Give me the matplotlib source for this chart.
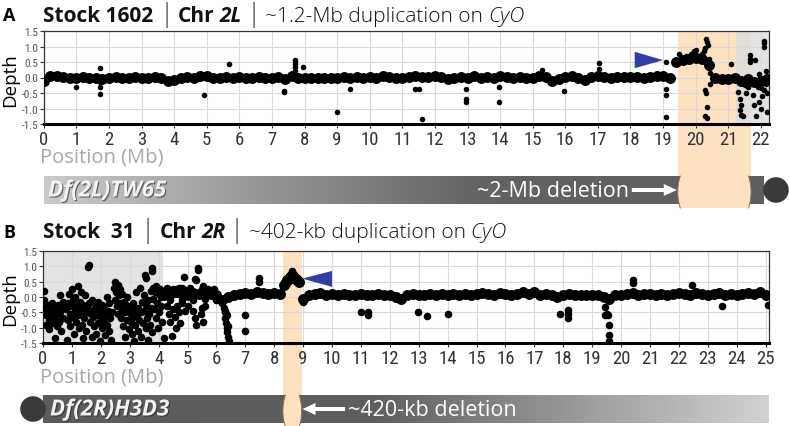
import numpy as np
import matplotlib
matplotlib.use("Agg")
import matplotlib.pyplot as plt
from matplotlib import font_manager
from matplotlib.patches import Rectangle, Circle, Polygon, FancyArrow
import matplotlib.patheffects as pe

# ---------------- data ----------------
# Panel A (Stock 1602, chr 2L): dense band sampled every 0.2 Mb from 0 Mb
a_band = [-0.1, 0.05, 0.05, 0.02, 0.0, 0.0, 0.02, 0.0, 0.0, -0.05,
          0.0, 0.02, 0.0, 0.0, 0.02, 0.0, 0.0, 0.02, 0.0, -0.1,
          -0.08, 0.0, 0.02, 0.0, 0.05, 0.05, 0.0, 0.0, 0.03, 0.0,
          0.02, 0.0, 0.0, 0.02, 0.0, 0.0, 0.03, -0.05, 0.05, 0.0,
          -0.03, 0.0, 0.0, -0.03, 0.0, 0.0, 0.02, 0.0, 0.03, 0.0,
          0.02, 0.0, 0.05, 0.03, 0.0, -0.02, 0.02, 0.05, 0.03, 0.02,
          0.05, 0.03, -0.05, 0.0, 0.02, 0.0, 0.05, 0.0, 0.02, 0.0,
          0.05, 0.03, 0.0, 0.02, -0.02, 0.0, 0.05, 0.03, -0.12, -0.05,
          0.02, 0.05, 0.0, -0.08, 0.02, 0.05, 0.03, 0.0, 0.02, 0.02,
          0.02, 0.03, 0.0, 0.02, 0.05, 0.05, 0.0, 0.5, 0.58, 0.6,
          0.62, 0.6, 0.4, 0.0, -0.05, -0.05, -0.02, -0.1, -0.05, -0.15,
          -0.1, -0.05]
a_band_pos = np.round(np.arange(len(a_band)) * 0.2, 1)

a_pts_x = [1.0, 1.72, 1.72, 1.72, 1.72, 4.92, 5.69, 7.38, 7.38, 7.7, 7.7, 7.7, 7.7, 7.7,
           7.95, 9.0, 9.4, 11.4, 11.5, 11.6, 12.94, 12.94, 12.94, 13.96, 13.96, 15.28,
           15.96, 17.03, 17.03, 19.1, 19.1, 19.1, 19.1,
           19.5, 19.7, 19.85, 19.95, 20.0, 20.1, 20.2, 20.25, 20.3, 20.33, 20.35, 20.38,
           20.4, 20.42, 20.45, 20.3, 20.32, 20.35, 20.3, 20.35, 20.45,
           21.08, 21.3, 21.35, 21.4, 21.35, 21.38, 21.45, 21.55, 21.6, 21.66, 21.66, 21.66,
           21.75, 21.8, 21.81, 21.85, 21.9, 21.95, 22.0, 22.05, 22.09, 22.09, 22.09, 22.1,
           22.15, 21.7, 22.0, 21.5, 22.2, 21.95, 22.15, 22.2]
a_pts_y = [-0.3, 0.3, -0.13, -0.3, -0.52, -0.55, 0.42, -0.42, -0.48, 0.57, 0.5, 0.42, 0.33, 0.22,
           0.33, -1.12, -0.36, -0.37, -0.37, -1.34, -0.36, -0.69, -0.8, -0.3, -0.8, 0.24,
           -0.45, 0.48, 0.27, 0.5, -0.36, -0.58, -1.28,
           0.75, 0.7, 0.75, 0.85, 0.9, 0.7, 0.75, 0.85, 0.95, 1.25, 1.15, 1.05,
           0.6, 0.3, 0.15, -0.4, -0.5, -0.95, -1.25, -1.3, -0.2,
           0.43, -0.47, -0.7, -0.9, -1.05, -1.2, -1.25, -0.5, -0.3, 0.72, 0.6, 0.5,
           -0.55, -0.9, 0.55, -1.25, -0.3, -0.8, -1.0, -0.6, 1.17, 1.1, 1.0, -0.4,
           -0.2, -0.15, -0.35, -0.25, -0.5, 0.1, 0.2, -1.1]

# Panel B (Stock 31, chr 2R): band from 4.2 Mb and from 9.0 Mb, every 0.2 Mb
b_band1 = [0.05, 0.1, 0.15, 0.1, 0.05, 0.12, 0.1, 0.08, 0.1, 0.05, -0.1,
           0.0, 0.05, 0.1, 0.12, 0.1, 0.15, 0.12, 0.1, 0.12, 0.1]
b_band2 = [-0.05, 0.08, 0.1, 0.12, 0.08, 0.1, 0.08, 0.1, 0.05, 0.08,
           0.1, 0.05, 0.08, 0.1, 0.05, 0.05, 0.0, -0.05, 0.05, 0.1,
           0.05, 0.08, 0.1, 0.08, 0.1, 0.05, 0.1, 0.08, 0.1, 0.08,
           0.1, 0.12, 0.1, 0.08, 0.12, 0.1, 0.08, 0.1, 0.15, 0.1,
           0.15, 0.08, 0.1, 0.05, 0.0, 0.05, 0.1, 0.08, 0.05, 0.08,
           0.05, 0.05, 0.0, -0.05, 0.05, 0.05, 0.1, 0.12, 0.08, 0.1,
           0.1, 0.08, 0.1, 0.08, 0.1, 0.12, 0.1, 0.08, 0.12, 0.1,
           0.08, 0.1, 0.12, 0.08, 0.1, 0.08, 0.1, 0.12, 0.1, 0.15,
           0.08]
b_band1_pos = np.round(4.2 + np.arange(len(b_band1)) * 0.2, 1)
b_band2_pos = np.round(9.0 + np.arange(len(b_band2)) * 0.2, 1)

# duplicated segment on CyO
b_dup_pos = [8.35, 8.4, 8.45, 8.5, 8.55, 8.6, 8.65, 8.7, 8.75, 8.8, 8.85]
b_dup = [0.38, 0.48, 0.55, 0.6, 0.65, 0.72, 0.68, 0.62, 0.58, 0.55, 0.5]

# scattered points (noisy left end and outliers)
b_pts = [
    (0.02, 0.2), (0.05, -0.1), (0.08, -0.35), (0.1, -0.6), (0.12, -0.9), (0.15, -0.25), (0.18, -0.5),
    (0.2, -0.75), (0.22, -1.05), (0.25, -0.4), (0.28, -0.65), (0.3, -0.2), (0.32, -0.85), (0.35, -0.55),
    (0.38, -0.3), (0.4, -1.35), (0.42, -0.7), (0.45, -0.45), (0.48, -0.95), (0.5, -0.6), (0.52, -0.25),
    (0.55, -0.8), (0.58, -0.5), (0.6, 0.05), (0.62, -1.1), (0.65, -0.35), (0.68, -0.7), (0.7, -0.15),
    (0.8, -0.4), (0.82, -1.4), (0.85, -0.2), (0.88, -0.75), (0.9, 0.1), (0.92, -0.55), (0.95, -0.95),
    (0.98, -0.3), (1.0, 0.25), (1.02, -0.65), (1.05, -0.1), (1.08, -1.2), (1.1, -0.45), (1.12, 0.0),
    (1.15, -0.8), (1.18, -0.3), (1.2, 0.35), (1.22, -0.6), (1.25, -1.0), (1.28, -0.15), (1.3, 0.15),
    (1.32, -0.45), (1.35, -0.9), (1.38, -0.25), (1.4, -1.35), (1.42, -0.7), (1.45, 0.05), (1.48, -0.5),
    (1.5, -1.1), (1.52, -0.35), (1.55, 0.97), (1.58, 1.05), (1.6, -0.2), (1.62, -0.8), (1.65, -0.55),
    (1.68, -1.3), (1.7, -0.1), (1.72, -0.65), (1.75, -0.4), (1.78, -0.95),
    (1.82, -0.3), (1.85, -1.2), (1.88, -0.6), (1.9, -0.15), (1.92, -0.85), (1.95, -0.45), (1.98, -1.45),
    (2.0, -0.7), (2.03, -0.25), (2.05, -1.0), (2.08, -0.5), (2.1, -0.8), (2.12, -0.35), (2.15, -1.25),
    (2.18, -0.6), (2.2, 0.0), (2.22, -0.9), (2.25, -0.45), (2.28, -1.1), (2.3, -0.2), (2.33, -0.7),
    (2.36, -1.4), (2.4, -0.5),
    (2.45, 0.3), (2.48, -0.1), (2.5, 0.5), (2.52, 0.15), (2.55, -0.3), (2.58, 0.4), (2.6, -0.55),
    (2.62, 0.05), (2.65, -0.2), (2.68, 0.25), (2.7, -0.7), (2.72, -0.4), (2.75, 0.1), (2.78, -0.95),
    (2.8, -0.15), (2.82, -0.5), (2.85, -1.3), (2.88, -0.25), (2.9, -0.75), (2.92, 0.0), (2.95, -0.45),
    (2.98, -1.05),
    (3.0, -0.3), (3.03, -0.8), (3.05, -0.55), (3.08, -1.2), (3.1, -0.2), (3.13, -0.65), (3.15, -1.45),
    (3.18, -0.4), (3.2, -0.9), (3.23, 0.15), (3.25, -0.6), (3.28, -1.1), (3.3, -0.35), (3.33, -0.75),
    (3.35, 0.3), (3.38, -0.5), (3.4, -1.3), (3.43, -0.15), (3.45, -0.85), (3.48, 0.05), (3.5, -0.45),
    (3.53, 0.73), (3.55, 0.62), (3.55, -1.0), (3.58, -0.25), (3.6, -0.7), (3.63, -1.4), (3.65, -0.1),
    (3.68, -0.55), (3.7, -0.9), (3.72, 0.2), (3.75, -0.35), (3.76, 0.95), (3.77, 0.85), (3.78, -1.15),
    (3.8, 0.3), (3.82, -0.05), (3.85, -0.4), (3.88, 0.15), (3.9, -0.7), (3.92, 0.35), (3.95, -0.2),
    (3.98, -1.0), (4.0, 0.1), (4.02, -0.5), (4.05, 0.25), (4.08, -0.3), (4.1, 0.0), (4.12, -0.8),
    (4.15, 0.15), (4.18, -1.35),
    (4.3, -0.3), (4.35, -0.55), (4.4, -0.8), (4.45, -1.27), (4.5, -0.4), (4.55, -0.65), (4.6, -1.0),
    (4.65, -0.3), (4.7, -0.5), (4.75, -0.85), (4.8, -0.2), (4.88, 0.66), (4.9, -0.45), (5.0, -0.3),
    (5.2, -0.45), (5.25, -0.7), (5.26, 0.59), (5.3, 0.55), (5.3, -0.9), (5.37, 0.96), (5.37, 0.88),
    (5.45, -0.55), (5.5, -0.35), (5.54, 0.36), (5.55, -0.8), (5.6, -0.3),
    (4.3, 0.3), (4.5, 0.25), (4.6, 0.25), (4.7, 0.3), (4.8, 0.3), (4.9, 0.22), (5.1, 0.28), (5.5, 0.25),
    (5.7, 0.25), (5.9, 0.25), (4.4, -0.1), (4.8, -0.1), (5.2, -0.1), (5.6, -0.05), (6.0, -0.1),
    (6.2, -0.2), (6.25, -0.35), (6.28, -0.5), (6.3, -0.7), (6.32, -0.85), (6.35, -1.0), (6.38, -1.15),
    (6.4, -1.3), (6.42, -1.45), (6.3, -0.45), (6.35, -0.6), (6.4, -0.95),
    (7.0, -0.58), (7.0, -1.1), (7.47, 0.62), (7.47, 0.5), (8.6, 0.85), (8.95, -0.05), (9.0, -0.15),
    (11.0, -0.5), (11.25, -0.6), (11.25, -0.5), (12.98, -0.49), (13.3, -0.62), (14.0, -0.56),
    (17.9, -0.56), (18.15, -0.41), (18.15, -0.56), (18.15, -0.7), (19.44, -0.33), (19.5, -0.56),
    (19.55, -0.6), (19.58, -0.9), (19.58, -1.24), (19.58, -1.44), (19.45, -0.58), (20.41, 0.57),
    (20.41, 0.47), (22.45, 0.39), (25.08, -0.25), (23.5, -0.3),
]

y_ticks = [-1.5, -1.0, -0.5, 0.0, 0.5, 1.0, 1.5]
y_labels = ["-1.5", "-1.0", "-0.5", "0.0", "0.5", "1.0", "1.5"]

# highlighted regions (Mb)
a_dup = (19.45, 21.7)
a_grey = (21.25, 22.25)
b_dup_span = (8.3, 8.95)
b_grey = (0.0, 4.15)

# ---------------- fonts ----------------
have = {f.name for f in font_manager.fontManager.ttflist}
SANS = "Open Sans" if "Open Sans" in have else "DejaVu Sans"
NARROW = next((f for f in ["Liberation Sans Narrow", "DejaVu Sans Condensed", "Roboto Condensed"]
               if f in have), SANS)
plt.rcParams["font.family"] = [SANS, "DejaVu Sans"]

W, H = 789, 427
fig = plt.figure(figsize=(W / 100, H / 100), dpi=100)
fig.patch.set_facecolor("white")

ORANGE = "#fde2c0"
GREY = "#dcdcdc"
BLUE = "#2f3fa6"

# overlay in pixel coordinates (y up), under the plot axes
ov = fig.add_axes([0, 0, 1, 1], zorder=-1)
ov.patch.set_visible(False)
ov.axis("off")
ov.set_xlim(0, W)
ov.set_ylim(0, H)
ov.set_autoscale_on(False)


def style_axes(ax, xmax, nt):
    ax.set_xlim(0, xmax)
    ax.set_ylim(-1.5, 1.5)
    ax.set_xticks(range(nt))
    ax.set_xticklabels([str(i) for i in range(nt)], fontfamily=NARROW, fontsize=13.5, color="#333")
    ax.set_yticks(y_ticks)
    ax.set_yticklabels(y_labels, fontfamily=NARROW, fontsize=8, color="#555")
    ax.grid(True, color="#d9d9d9", lw=0.8)
    ax.set_axisbelow(True)
    ax.tick_params(axis="x", length=3, pad=1.5, color="#333")
    ax.tick_params(axis="y", length=3, pad=1, color="#333")
    for s in ["top", "right", "left"]:
        ax.spines[s].set_color("#333")
        ax.spines[s].set_linewidth(0.9)
    ax.spines["bottom"].set_linewidth(2.2)
    ax.spines["bottom"].set_color("black")


BAND_S = 62
PT_S = 16

axA = fig.add_axes([43.8 / W, 1 - 125 / H, (769 - 43.8) / W, 93 / H])
style_axes(axA, 22.25, 23)
axA.axvspan(*a_dup, color=ORANGE, lw=0, zorder=0.2)
axA.axvspan(*a_grey, color=GREY, alpha=0.8, lw=0, zorder=0.3)
axA.scatter(a_band_pos, a_band, s=BAND_S, c="black", lw=0, zorder=3)
axA.scatter(a_pts_x, a_pts_y, s=PT_S, c="black", lw=0, zorder=3)
axA.fill([18.13, 18.13, 19.0], [0.83, 0.3, 0.56], color=BLUE, lw=0, zorder=4)

axB = fig.add_axes([43 / W, 1 - 344 / H, 726 / W, 92 / H])
style_axes(axB, 25.12, 26)
axB.axvspan(*b_grey, color=GREY, alpha=0.8, lw=0, zorder=0.3)
axB.axvspan(*b_dup_span, color=ORANGE, lw=0, zorder=0.2)
axB.scatter(b_band1_pos, b_band1, s=BAND_S, c="black", lw=0, zorder=3)
axB.scatter(b_band2_pos, b_band2, s=BAND_S, c="black", lw=0, zorder=3)
axB.scatter(b_dup_pos, b_dup, s=BAND_S, c="black", lw=0, zorder=3)
axB.scatter([p[0] for p in b_pts], [p[1] for p in b_pts], s=30, c="black", lw=0, zorder=3)
axB.fill([10.0, 10.0, 8.97], [0.85, 0.33, 0.6], color=BLUE, lw=0, zorder=4)


def px(ax, mb):
    return ax.transData.transform((mb, 0))[0]


def chrom(ax, x0, x1, span, top, bot, ramp, circ_x, name, name_x):
    # gradient bar, pixel y given top-down like the picture
    yt, yb = H - top, H - bot
    t = np.linspace(0, 1, 256)
    g = np.interp(t, ramp[0], ramp[1])
    img = np.dstack([g, g, g])
    ov.imshow(img, extent=(px(ax, x0), px(ax, x1), yb, yt), aspect="auto",
              interpolation="bilinear", zorder=1)
    xl, xr = px(ax, span[0]), px(ax, span[1])
    ax_bot = ax.transAxes.transform((0, 0))[1]
    ov.add_patch(Rectangle((xl, yt), xr - xl, ax_bot - yt, color=ORANGE, lw=0, zorder=0.5))
    ys = np.linspace(yt, yb - 4, 30)
    mid, half = (yt + yb - 4) / 2, (yt - yb + 4) / 2
    d = 2.5 * ((ys - mid) / half) ** 2
    left = np.column_stack([xl + d, ys])
    right = np.column_stack([xr - d, ys])[::-1]
    ov.add_patch(Polygon(np.vstack([left, right]), closed=True, color=ORANGE, lw=0, zorder=2))
    ov.plot(xl + d, ys, color="#8d7355", lw=0.7, zorder=2.5)
    ov.plot(xr - d, ys, color="#8d7355", lw=0.7, zorder=2.5)
    ov.add_patch(Circle((circ_x, (yt + yb) / 2), 12.8, color="#3a3a3a", lw=0, zorder=2))
    ov.text(name_x, (yt + yb) / 2 - 1, name, color="#f2f2f2", fontsize=16, fontweight="bold",
            fontstyle="italic", va="center", ha="left", zorder=3,
            path_effects=[pe.SimplePatchShadow(offset=(0.8, -0.8), shadow_rgbFace="#222", alpha=0.6),
                          pe.Normal()])
    return (yt + yb) / 2


def run(x, y, pieces):
    r = fig.canvas.get_renderer()
    for txt, kw, gap in pieces:
        opts = dict(color="#111")
        opts.update(kw)
        t = ov.text(x, y, txt, va="baseline", ha="left", **opts)
        x = t.get_window_extent(r).x1 + gap


bold = dict(fontsize=15, fontweight="bold")
boldit = dict(fontsize=15, fontweight="bold", fontstyle="italic")
light = dict(fontsize=15, fontweight="light")
lightit = dict(fontsize=15, fontweight="light", fontstyle="italic")
bar = dict(fontsize=19, fontweight="light", color="#333")

# ---- panel A annotations ----
ov.text(3, H - 21, "A", fontsize=13, fontweight="bold", va="baseline")
run(43, H - 22, [("Stock 1602", bold, 6), ("|", bar, 5), ("Chr", bold, 5), ("2L", boldit, 4),
                 ("|", bar, 5), ("~1.2-Mb duplication on", light, 5), ("CyO", lightit, 0)])
ov.text(10, H - 80, "Depth", rotation=90, ha="center", va="center", fontsize=13.5)
ov.text(40, H - 163, "Position (Mb)", color="#a8a8a8", fontsize=14.5, va="baseline")
ya = chrom(axA, 0, 22.07, a_dup, 177, 205, ([0, 0.6, 1], [0.79, 0.39, 0.37]), 776,
           "Df(2L)TW65", 48)
ov.add_patch(FancyArrow(px(axA, 18.04), ya, px(axA, 19.42) - px(axA, 18.04), 0, width=4,
                        head_width=12, head_length=13, length_includes_head=True,
                        color="white", lw=0, zorder=3))
ov.text(px(axA, 18.04) - 3, ya - 1, "~2-Mb deletion", color="white", fontsize=15.5,
        ha="right", va="center", zorder=3)

# ---- panel B annotations ----
ov.text(3, H - 238, "B", fontsize=13, fontweight="bold", va="baseline")
run(43, H - 238, [("Stock  31", bold, 6), ("|", bar, 5), ("Chr", bold, 5), ("2R", boldit, 4),
                  ("|", bar, 5), ("~402-kb duplication on", light, 5), ("CyO", lightit, 0)])
ov.text(10, H - 299, "Depth", rotation=90, ha="center", va="center", fontsize=13.5)
ov.text(40, H - 383, "Position (Mb)", color="#a8a8a8", fontsize=14.5, va="baseline")
yb_ = chrom(axB, 0, 25.12, b_dup_span, 396, 424, ([0, 0.45, 1], [0.36, 0.37, 0.82]), 33,
            "Df(2R)H3D3", 50)
ov.add_patch(FancyArrow(px(axB, 10.45), yb_, px(axB, 8.98) - px(axB, 10.45), 0, width=4,
                        head_width=12, head_length=13, length_includes_head=True,
                        color="white", lw=0, zorder=3))
ov.text(px(axB, 10.45) + 3, yb_ - 1, "~420-kb deletion", color="white", fontsize=15.5,
        ha="left", va="center", zorder=3)

ov.set_xlim(0, W)
ov.set_ylim(0, H)

fig.savefig("out.png", dpi=100)
